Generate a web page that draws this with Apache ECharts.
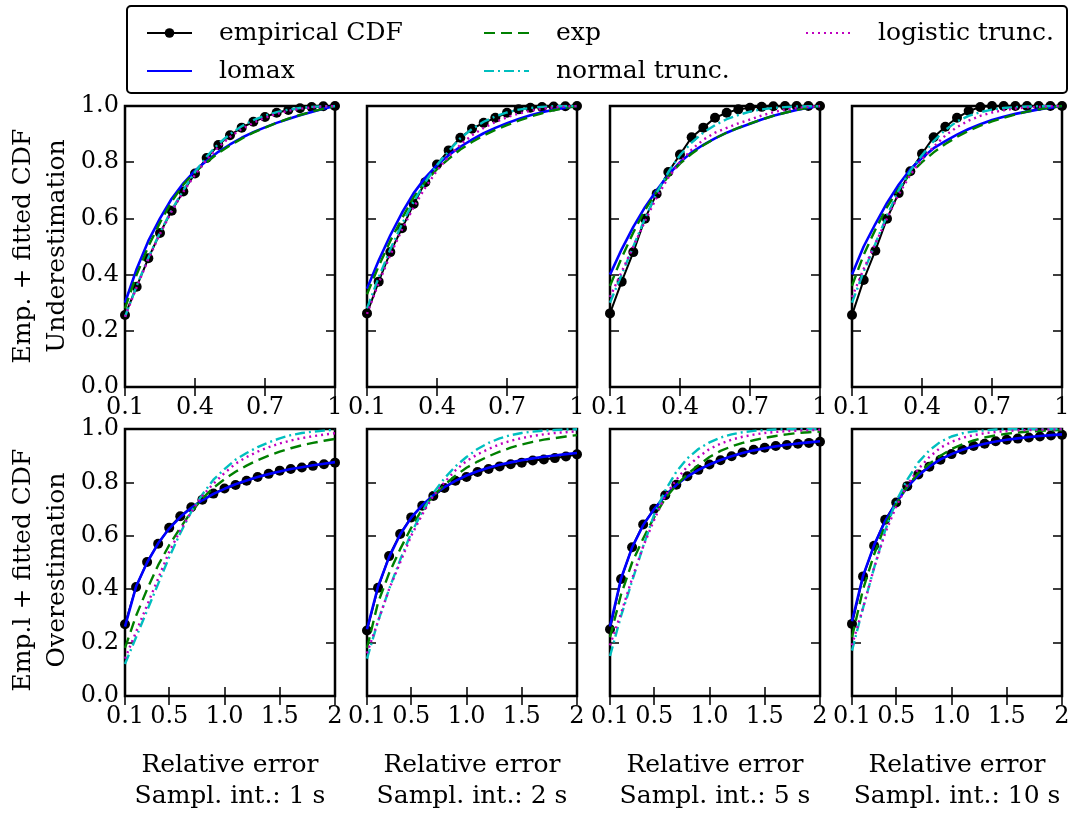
<!DOCTYPE html>
<html>
<head>
<meta charset="utf-8">
<script src="https://cdn.jsdelivr.net/npm/echarts@6/dist/echarts.min.js"></script>
<style>
  html, body { margin: 0; padding: 0; background: #fff; }
  #chart { width: 1075px; height: 813px; }
</style>
</head>
<body>
<div id="chart"></div>
<script>
  // sample points (relative error)
  var xUnder = [0.1, 0.15, 0.2, 0.25, 0.3, 0.35, 0.4, 0.45, 0.5, 0.55, 0.6, 0.65, 0.7, 0.75, 0.8, 0.85, 0.9, 0.95, 1.0];
  var xOver = [0.1, 0.2, 0.3, 0.4, 0.5, 0.6, 0.7, 0.8, 0.9, 1.0, 1.1, 1.2, 1.3, 1.4, 1.5, 1.6, 1.7, 1.8, 1.9, 2.0];

  var xUnderTicks = [0.1, 0.4, 0.7, 1.0];
  var xUnderTickLabels = ['0.1', '0.4', '0.7', '1'];
  var xOverTicks = [0.1, 0.5, 1.0, 1.5, 2.0];
  var xOverTickLabels = ['0.1', '0.5', '1.0', '1.5', '2'];

  var intervals = ['1 s', '2 s', '5 s', '10 s'];
  var seriesNames = ['empirical CDF', 'lomax', 'exp', 'normal trunc.', 'logistic trunc.'];

  // underestimation (top row), one list per sampling interval
  var empUnder = [
    [0.256, 0.357, 0.458, 0.548, 0.627, 0.696, 0.760, 0.815, 0.861, 0.896, 0.923, 0.944, 0.961, 0.976, 0.986, 0.992, 0.996, 0.999, 1.0],
    [0.262, 0.375, 0.480, 0.565, 0.651, 0.729, 0.792, 0.842, 0.887, 0.919, 0.940, 0.958, 0.976, 0.988, 0.994, 0.996, 0.998, 0.999, 1.0],
    [0.262, 0.375, 0.480, 0.599, 0.688, 0.765, 0.827, 0.889, 0.923, 0.958, 0.976, 0.988, 0.994, 0.997, 0.999, 1.0, 1.0, 1.0, 1.0],
    [0.256, 0.381, 0.485, 0.599, 0.690, 0.768, 0.830, 0.889, 0.926, 0.958, 0.982, 0.996, 1.0, 1.0, 1.0, 1.0, 1.0, 1.0, 1.0]
  ];
  var lomaxUnder = [
    [0.30, 0.42, 0.52, 0.60, 0.67, 0.725, 0.77, 0.805, 0.837, 0.863, 0.887, 0.907, 0.924, 0.94, 0.954, 0.967, 0.979, 0.99, 1.0],
    [0.35, 0.45, 0.54, 0.62, 0.69, 0.745, 0.79, 0.825, 0.855, 0.88, 0.903, 0.922, 0.939, 0.954, 0.967, 0.978, 0.987, 0.994, 1.0],
    [0.40, 0.49, 0.57, 0.64, 0.70, 0.755, 0.80, 0.835, 0.862, 0.885, 0.905, 0.922, 0.937, 0.952, 0.965, 0.976, 0.986, 0.994, 1.0],
    [0.40, 0.50, 0.58, 0.655, 0.72, 0.775, 0.815, 0.85, 0.875, 0.898, 0.918, 0.935, 0.95, 0.962, 0.972, 0.98, 0.988, 0.994, 1.0]
  ];
  var expUnder = [
    [0.28, 0.40, 0.50, 0.585, 0.66, 0.72, 0.765, 0.80, 0.833, 0.86, 0.884, 0.905, 0.923, 0.94, 0.955, 0.968, 0.98, 0.99, 1.0],
    [0.33, 0.43, 0.52, 0.60, 0.675, 0.73, 0.775, 0.812, 0.845, 0.872, 0.895, 0.915, 0.932, 0.948, 0.962, 0.974, 0.985, 0.993, 1.0],
    [0.36, 0.46, 0.55, 0.63, 0.695, 0.75, 0.795, 0.83, 0.86, 0.885, 0.905, 0.922, 0.937, 0.952, 0.965, 0.976, 0.986, 0.994, 1.0],
    [0.36, 0.47, 0.56, 0.64, 0.705, 0.76, 0.80, 0.835, 0.865, 0.89, 0.912, 0.93, 0.945, 0.958, 0.97, 0.98, 0.988, 0.995, 1.0]
  ];
  var normalUnder = [
    [0.25, 0.36, 0.46, 0.55, 0.63, 0.70, 0.765, 0.82, 0.865, 0.90, 0.928, 0.95, 0.966, 0.978, 0.987, 0.993, 0.997, 0.999, 1.0],
    [0.28, 0.39, 0.49, 0.58, 0.66, 0.73, 0.79, 0.84, 0.885, 0.918, 0.944, 0.963, 0.977, 0.987, 0.993, 0.997, 0.999, 1.0, 1.0],
    [0.30, 0.40, 0.50, 0.60, 0.69, 0.765, 0.825, 0.87, 0.905, 0.932, 0.953, 0.968, 0.98, 0.988, 0.993, 0.996, 0.998, 0.999, 1.0],
    [0.30, 0.41, 0.51, 0.61, 0.70, 0.77, 0.825, 0.875, 0.915, 0.945, 0.965, 0.978, 0.987, 0.993, 0.996, 0.998, 0.999, 1.0, 1.0]
  ];
  var logisticUnder = [
    [0.25, 0.355, 0.455, 0.545, 0.625, 0.695, 0.755, 0.81, 0.853, 0.89, 0.918, 0.94, 0.958, 0.972, 0.983, 0.99, 0.995, 0.998, 1.0],
    [0.26, 0.37, 0.47, 0.56, 0.64, 0.71, 0.77, 0.82, 0.862, 0.896, 0.922, 0.943, 0.96, 0.973, 0.983, 0.99, 0.995, 0.998, 1.0],
    [0.32, 0.41, 0.50, 0.59, 0.675, 0.745, 0.80, 0.845, 0.88, 0.905, 0.922, 0.938, 0.952, 0.966, 0.978, 0.987, 0.993, 0.997, 1.0],
    [0.32, 0.42, 0.51, 0.60, 0.685, 0.755, 0.81, 0.855, 0.895, 0.925, 0.948, 0.965, 0.977, 0.985, 0.991, 0.995, 0.997, 0.999, 1.0]
  ];

  // overestimation (bottom row)
  var empOver = [
    [0.269, 0.408, 0.502, 0.570, 0.630, 0.673, 0.707, 0.735, 0.758, 0.777, 0.790, 0.806, 0.820, 0.832, 0.844, 0.850, 0.856, 0.862, 0.868, 0.874],
    [0.245, 0.405, 0.524, 0.607, 0.669, 0.713, 0.749, 0.779, 0.806, 0.820, 0.839, 0.850, 0.860, 0.868, 0.874, 0.882, 0.886, 0.891, 0.897, 0.905],
    [0.250, 0.438, 0.557, 0.642, 0.701, 0.752, 0.791, 0.823, 0.847, 0.867, 0.883, 0.898, 0.912, 0.922, 0.930, 0.936, 0.940, 0.945, 0.948, 0.952],
    [0.270, 0.448, 0.563, 0.660, 0.725, 0.786, 0.830, 0.859, 0.885, 0.906, 0.922, 0.936, 0.945, 0.954, 0.960, 0.964, 0.968, 0.972, 0.976, 0.978]
  ];
  var lomaxOver = [
    [0.26, 0.41, 0.50, 0.572, 0.627, 0.67, 0.705, 0.733, 0.757, 0.776, 0.793, 0.807, 0.82, 0.831, 0.841, 0.85, 0.857, 0.864, 0.87, 0.876],
    [0.25, 0.41, 0.52, 0.605, 0.668, 0.715, 0.752, 0.782, 0.806, 0.826, 0.842, 0.855, 0.866, 0.875, 0.883, 0.89, 0.896, 0.901, 0.906, 0.91],
    [0.26, 0.44, 0.556, 0.64, 0.70, 0.75, 0.79, 0.822, 0.847, 0.867, 0.884, 0.898, 0.91, 0.92, 0.928, 0.935, 0.941, 0.946, 0.95, 0.954],
    [0.28, 0.45, 0.565, 0.655, 0.725, 0.782, 0.826, 0.86, 0.886, 0.906, 0.922, 0.935, 0.945, 0.953, 0.96, 0.965, 0.97, 0.974, 0.977, 0.98]
  ];
  var expOver = [
    [0.18, 0.30, 0.40, 0.49, 0.565, 0.63, 0.69, 0.74, 0.78, 0.812, 0.84, 0.863, 0.883, 0.90, 0.915, 0.928, 0.939, 0.948, 0.956, 0.963],
    [0.18, 0.35, 0.46, 0.55, 0.63, 0.70, 0.75, 0.79, 0.825, 0.855, 0.878, 0.898, 0.915, 0.93, 0.942, 0.952, 0.96, 0.966, 0.972, 0.977],
    [0.22, 0.38, 0.50, 0.59, 0.67, 0.74, 0.79, 0.83, 0.865, 0.895, 0.918, 0.935, 0.948, 0.958, 0.967, 0.974, 0.98, 0.985, 0.988, 0.99],
    [0.22, 0.40, 0.53, 0.64, 0.72, 0.785, 0.835, 0.87, 0.90, 0.925, 0.943, 0.957, 0.968, 0.976, 0.982, 0.987, 0.99, 0.993, 0.995, 0.996]
  ];
  var normalOver = [
    [0.12, 0.22, 0.32, 0.42, 0.52, 0.61, 0.69, 0.755, 0.81, 0.85, 0.885, 0.91, 0.932, 0.95, 0.965, 0.977, 0.985, 0.99, 0.994, 0.997],
    [0.14, 0.28, 0.40, 0.51, 0.61, 0.69, 0.76, 0.815, 0.86, 0.895, 0.925, 0.948, 0.965, 0.977, 0.985, 0.99, 0.994, 0.996, 0.998, 0.999],
    [0.15, 0.30, 0.43, 0.56, 0.68, 0.77, 0.84, 0.89, 0.925, 0.95, 0.968, 0.98, 0.988, 0.993, 0.996, 0.998, 0.999, 1.0, 1.0, 1.0],
    [0.17, 0.33, 0.48, 0.62, 0.73, 0.81, 0.875, 0.92, 0.952, 0.972, 0.984, 0.991, 0.995, 0.998, 0.999, 1.0, 1.0, 1.0, 1.0, 1.0]
  ];
  var logisticOver = [
    [0.14, 0.24, 0.34, 0.44, 0.54, 0.62, 0.69, 0.75, 0.795, 0.835, 0.87, 0.895, 0.915, 0.932, 0.946, 0.957, 0.966, 0.973, 0.979, 0.984],
    [0.16, 0.28, 0.40, 0.50, 0.60, 0.68, 0.75, 0.80, 0.845, 0.88, 0.905, 0.925, 0.943, 0.956, 0.966, 0.974, 0.98, 0.985, 0.988, 0.991],
    [0.19, 0.31, 0.44, 0.56, 0.66, 0.75, 0.81, 0.86, 0.895, 0.925, 0.945, 0.96, 0.971, 0.979, 0.985, 0.989, 0.992, 0.994, 0.996, 0.997],
    [0.19, 0.33, 0.48, 0.61, 0.71, 0.79, 0.85, 0.895, 0.93, 0.952, 0.967, 0.977, 0.984, 0.989, 0.992, 0.995, 0.996, 0.997, 0.998, 0.999]
  ];

  var FONT = 'DejaVu Serif';
  var colors = ['#000000', '#0000ff', '#008000', '#00bfbf', '#bf00bf'];
  var dashes = ['solid', 'solid', [11, 6], [10, 4, 2, 4], [2, 4]];
  var widths = [2, 2.6, 2.4, 2.4, 2.4];

  var colLeft = [125, 367, 610, 852];
  var rowTop = [106, 429];
  var rowHeight = [281, 282];

  function pairs(xs, ys) {
    return xs.map(function (x, i) { return [x, ys[i]]; });
  }

  var grids = [], xAxes = [], yAxes = [], series = [];

  for (var row = 0; row < 2; row++) {
    for (var col = 0; col < 4; col++) {
      var g = grids.length;
      var under = row === 0;
      var ticks = under ? xUnderTicks : xOverTicks;
      var tickLabels = under ? xUnderTickLabels : xOverTickLabels;
      var xmax = under ? 1 : 2;

      grids.push({
        left: colLeft[col], top: rowTop[row], width: 210, height: rowHeight[row],
        show: true, borderColor: '#000', borderWidth: 2.5, backgroundColor: '#fff'
      });

      var tickStyle = { show: true, inside: true, length: 9, lineStyle: { color: '#000', width: 1.5 }, customValues: ticks };
      xAxes.push({
        gridIndex: g, type: 'value', min: 0.1, max: xmax, position: 'bottom',
        axisLine: { show: false },
        axisTick: tickStyle,
        splitLine: { show: false },
        axisLabel: {
          show: true, customValues: ticks, margin: 9, color: '#000', fontSize: 24, fontFamily: FONT,
          showMinLabel: true, showMaxLabel: true,
          formatter: (function (tk, lb) {
            return function (v) {
              for (var i = 0; i < tk.length; i++) { if (Math.abs(tk[i] - v) < 1e-6) return lb[i]; }
              return '';
            };
          })(ticks, tickLabels)
        },
        name: under ? '' : 'Relative error\nSampl. int.: ' + intervals[col],
        nameLocation: 'middle', nameGap: 46,
        nameTextStyle: { color: '#000', fontSize: 25, fontFamily: FONT, lineHeight: 31, padding: [8, 0, 0, 0] }
      });
      xAxes.push({
        gridIndex: g, type: 'value', min: 0.1, max: xmax, position: 'top',
        axisLine: { show: false }, axisTick: tickStyle,
        axisLabel: { show: false }, splitLine: { show: false }
      });

      var yTick = { show: true, inside: true, length: 9, lineStyle: { color: '#000', width: 1.5 } };
      yAxes.push({
        gridIndex: g, type: 'value', min: 0, max: 1, interval: 0.2, position: 'left',
        axisLine: { show: false }, axisTick: yTick, splitLine: { show: false },
        axisLabel: {
          show: col === 0, margin: 6, color: '#000', fontSize: 24, fontFamily: FONT,
          showMinLabel: true, showMaxLabel: true,
          formatter: function (v) { return v.toFixed(1); }
        }
      });
      yAxes.push({
        gridIndex: g, type: 'value', min: 0, max: 1, interval: 0.2, position: 'right',
        axisLine: { show: false }, axisTick: yTick, splitLine: { show: false },
        axisLabel: { show: false }
      });

      var xs = under ? xUnder : xOver;
      var sets = under
        ? [empUnder, lomaxUnder, expUnder, normalUnder, logisticUnder]
        : [empOver, lomaxOver, expOver, normalOver, logisticOver];

      for (var s = 0; s < 5; s++) {
        var isEmp = s === 0;
        series.push({
          name: seriesNames[s],
          type: 'line',
          xAxisIndex: 2 * g,
          yAxisIndex: 2 * g,
          data: pairs(xs, sets[s][col]),
          showSymbol: isEmp,
          symbol: isEmp ? 'circle' : 'none',
          symbolSize: 10,
          itemStyle: { color: colors[s] },
          lineStyle: { color: colors[s], width: widths[s], type: dashes[s] },
          emphasis: { disabled: true },
          silent: true,
          z: 2 + s
        });
      }
    }
  }

  // fitted curves have no marker in the key
  function key(name) {
    return name === 'empirical CDF' ? { name: name } : { name: name, itemStyle: { opacity: 0 } };
  }
  var legendText = { fontSize: 25, fontFamily: FONT, color: '#000', padding: [0, 0, 0, 22], lineHeight: 26 };
  function legendAt(names, left) {
    return {
      data: names.map(key), left: left, top: 15, orient: 'vertical',
      itemWidth: 45, itemHeight: 12, itemGap: 12,
      selectedMode: false, textStyle: legendText
    };
  }

  var option = {
    animation: false,
    backgroundColor: '#fff',
    textStyle: { fontFamily: FONT },
    grid: grids,
    xAxis: xAxes,
    yAxis: yAxes,
    series: series,
    legend: [
      legendAt(['empirical CDF', 'lomax'], 141),
      legendAt(['exp', 'normal trunc.'], 478),
      legendAt(['logistic trunc.'], 800)
    ],
    graphic: [
      {
        type: 'rect', left: 126, top: 5, z: -1,
        shape: { width: 940, height: 87, r: 4 },
        style: { fill: '#fff', stroke: '#000', lineWidth: 2 }
      },
      {
        type: 'text', x: 40, y: 246, rotation: Math.PI / 2,
        style: {
          text: 'Emp. + fitted CDF\nUnderestimation', fill: '#000',
          font: '25px "DejaVu Serif"', lineHeight: 34, align: 'center', verticalAlign: 'middle'
        }
      },
      {
        type: 'text', x: 40, y: 570, rotation: Math.PI / 2,
        style: {
          text: 'Emp.l + fitted CDF\nOverestimation', fill: '#000',
          font: '25px "DejaVu Serif"', lineHeight: 34, align: 'center', verticalAlign: 'middle'
        }
      }
    ]
  };

  var myChart = echarts.init(document.getElementById('chart'));
  myChart.setOption(option);
</script>
</body>
</html>
